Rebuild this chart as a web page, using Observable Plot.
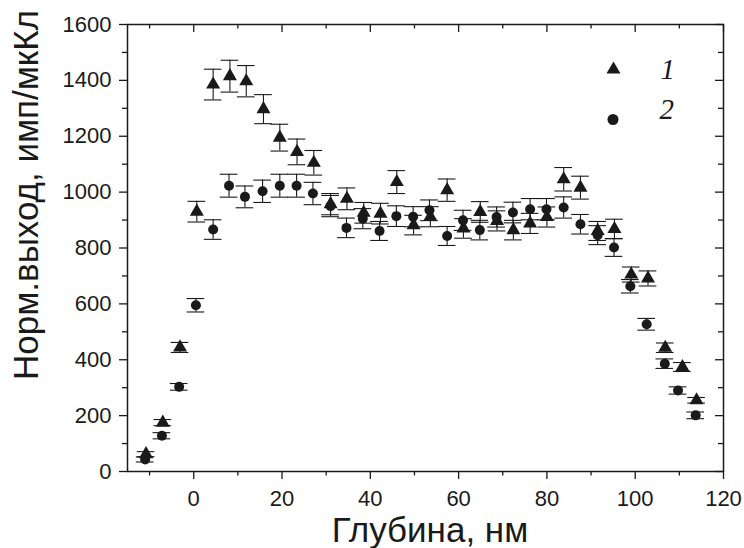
<!DOCTYPE html>
<html><head><meta charset="utf-8">
<script src="https://cdn.jsdelivr.net/npm/d3@7"></script>
<script src="https://cdn.jsdelivr.net/npm/@observablehq/plot@0.6"></script>
<style>body{margin:0;background:#fff} #chart svg{display:block}</style>
</head><body><div id="chart"></div>
<script>
// Series 1 (triangles)
const depth1 = [-10.8, -7.0, -3.1, 0.7, 4.4, 8.2, 11.9, 15.8, 19.5, 23.4, 27.2, 31.0, 34.7, 38.5, 42.3, 46.0, 49.8, 53.6, 57.4, 61.1, 64.9, 68.7, 72.4, 76.2, 80.0, 83.8, 87.6, 91.5, 95.3, 99.1, 102.9, 106.8, 110.7, 113.9];
const yield1 = [62, 175, 444, 930, 1385, 1415, 1397, 1297, 1195, 1144, 1105, 957, 976, 926, 923, 1036, 882, 912, 1007, 870, 929, 897, 864, 888, 911, 1046, 1016, 861, 868, 705, 691, 443, 374, 255];
const err1   = [9, 11, 18, 37, 55, 57, 56, 52, 48, 46, 44, 38, 39, 37, 37, 41, 35, 36, 40, 35, 37, 36, 35, 36, 36, 42, 41, 34, 35, 27, 27, 17, 16, 10];
// Series 2 (circles)
const depth2 = [-11.0, -7.2, -3.3, 0.5, 4.4, 8.0, 11.6, 15.6, 19.5, 23.3, 27.0, 31.0, 34.6, 38.3, 42.1, 45.9, 49.7, 53.4, 57.4, 61.0, 64.8, 68.6, 72.3, 76.2, 79.9, 83.8, 87.6, 91.5, 95.2, 98.9, 102.6, 106.7, 109.7, 113.7];
const yield2 = [43, 128, 303, 595, 866, 1023, 983, 1003, 1023, 1023, 995, 950, 872, 905, 861, 914, 912, 935, 843, 899, 864, 911, 927, 939, 939, 945, 885, 846, 802, 663, 527, 386, 290, 201];
const err2   = [9, 11, 12, 24, 35, 41, 39, 40, 41, 41, 40, 38, 35, 36, 34, 37, 36, 37, 34, 36, 35, 36, 37, 38, 38, 38, 35, 34, 32, 24, 21, 17, 13, 12];

const xTicks = [0, 20, 40, 60, 80, 100, 120];
const xMinor = [-10, 10, 30, 50, 70, 90, 110];
const yTicks = [0, 200, 400, 600, 800, 1000, 1200, 1400, 1600];
const yMinor = [100, 300, 500, 700, 900, 1100, 1300, 1500];
const legendLabels = ["1", "2"];
const xLabel = "Глубина, нм";
const yLabel = "Норм.выход, имп/мкКл";

const s1 = depth1.map((x, i) => ({x, y: yield1[i], e: err1[i]}));
const s2 = depth2.map((x, i) => ({x, y: yield2[i], e: err2[i]}));

const W = 744, H = 548, mL = 127, mR = 21, mT = 24, mB = 77;
const pw = W - mL - mR, ph = H - mT - mB;
const ink = "#1a1a1a";
const cap = 2;

function errMarks(s) {
  return [
    Plot.ruleX(s, {x: "x", y1: d => d.y - d.e, y2: d => d.y + d.e, stroke: ink, strokeWidth: 1.1}),
    Plot.ruleY(s, {y: d => d.y + d.e, x1: d => d.x - cap, x2: d => d.x + cap, stroke: ink, strokeWidth: 1.1}),
    Plot.ruleY(s, {y: d => d.y - d.e, x1: d => d.x - cap, x2: d => d.x + cap, stroke: ink, strokeWidth: 1.1})
  ];
}

const plot = Plot.plot({
  width: W, height: H,
  marginLeft: mL, marginRight: mR, marginTop: mT, marginBottom: mB,
  style: {fontFamily: "'Liberation Sans', Arial, sans-serif", background: "#fff", color: ink},
  x: {domain: [-15, 120]},
  y: {domain: [0, 1600]},
  marks: [
    Plot.axisX({ticks: xTicks, tickSize: 8, tickPadding: 11, fontSize: 22, label: null, tickFormat: d => String(d), stroke: ink, strokeWidth: 1.3}),
    Plot.axisX({ticks: xMinor, tickSize: 4.5, text: null, label: null, stroke: ink, strokeWidth: 1.3}),
    Plot.axisY({ticks: yTicks, tickSize: 8, tickPadding: 8, fontSize: 22, label: null, tickFormat: d => String(d), stroke: ink, strokeWidth: 1.3}),
    Plot.axisY({ticks: yMinor, tickSize: 5, text: null, label: null, stroke: ink, strokeWidth: 1.3}),
    // inward mirror ticks on top and right
    Plot.ruleX(xTicks, {x: d => d, insetBottom: ph - 8, stroke: ink, strokeWidth: 1.3}),
    Plot.ruleX(xMinor, {x: d => d, insetBottom: ph - 4.5, stroke: ink, strokeWidth: 1.3}),
    Plot.ruleY(yTicks, {y: d => d, insetLeft: pw - 8, stroke: ink, strokeWidth: 1.3}),
    Plot.ruleY(yMinor, {y: d => d, insetLeft: pw - 5, stroke: ink, strokeWidth: 1.3}),
    Plot.frame({stroke: ink, strokeWidth: 1.5}),
    ...errMarks(s2),
    Plot.dot(s2, {x: "x", y: "y", r: 5, fill: ink, symbol: "circle"}),
    ...errMarks(s1),
    Plot.dot(s1, {x: "x", y: "y", r: 5.2, fill: ink, symbol: "triangle"}),
    // legend
    Plot.dot([legendLabels[0]], {frameAnchor: "top-left", dx: 486, dy: 45, r: 5.2, fill: ink, symbol: "triangle"}),
    Plot.dot([legendLabels[1]], {frameAnchor: "top-left", dx: 485.5, dy: 95, r: 5.5, fill: ink, symbol: "circle"}),
    Plot.text([legendLabels[0]], {text: d => d, frameAnchor: "top-left", dx: 533, dy: 45.3, textAnchor: "start", lineAnchor: "middle", fontFamily: "'Liberation Serif', 'Times New Roman', serif", fontStyle: "italic", fontSize: 29, fill: ink}),
    Plot.text([legendLabels[1]], {text: d => d, frameAnchor: "top-left", dx: 532, dy: 85.3, textAnchor: "start", lineAnchor: "middle", fontFamily: "'Liberation Serif', 'Times New Roman', serif", fontStyle: "italic", fontSize: 29, fill: ink})
  ]
});

const svg = d3.select(plot);
svg.append("text")
  .attr("x", 430).attr("y", 542)
  .attr("text-anchor", "middle")
  .attr("font-family", "'Liberation Sans', Arial, sans-serif")
  .attr("font-size", 35).attr("fill", ink)
  .text(xLabel);
svg.append("text")
  .attr("transform", "translate(38,195) rotate(-90)")
  .attr("text-anchor", "middle")
  .attr("font-family", "'Liberation Sans', Arial, sans-serif")
  .attr("font-size", 35).attr("fill", ink)
  .text(yLabel);

document.getElementById("chart").append(plot);
</script>
</body></html>
